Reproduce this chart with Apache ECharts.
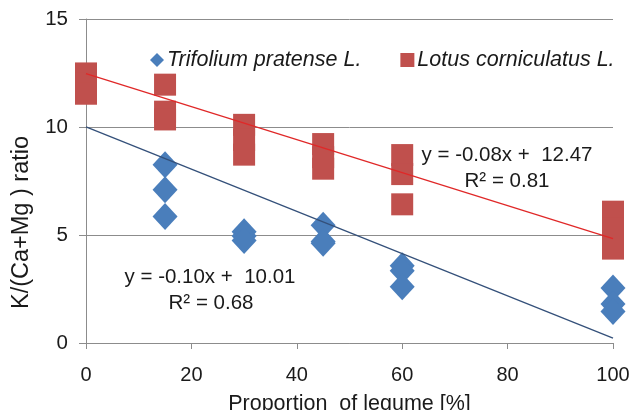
<!DOCTYPE html>
<html>
<head>
<meta charset="utf-8">
<script src="https://cdn.jsdelivr.net/npm/echarts@6/dist/echarts.min.js"></script>
<style>
html,body{margin:0;padding:0;background:#fff;}
#chart{width:630px;height:410px;}
</style>
</head>
<body>
<div id="chart"></div>
<script>
// ---- data ----
var legumeProportion = [0, 15, 30, 45, 60, 100];
var trifoliumX = [15, 15, 15, 30, 30, 30, 45, 45, 45, 60, 60, 60, 100, 100, 100];
var trifoliumY = [8.25, 7.1, 5.86, 5.15, 4.95, 4.75, 5.45, 4.7, 4.62, 3.58, 3.35, 2.6, 2.55, 1.8, 1.46];
var lotusX = [0, 0, 0, 15, 15, 15, 30, 30, 30, 45, 45, 45, 60, 60, 60, 100, 100, 100];
var lotusY = [12.48, 12.0, 11.54, 11.96, 10.71, 10.35, 10.1, 9.4, 8.72, 9.21, 8.6, 8.07, 8.7, 7.82, 6.42, 6.08, 5.3, 4.37];
var trifoliumSlope = -0.0978, trifoliumIntercept = 10.01;
var lotusSlope = -0.0764, lotusIntercept = 12.47;
var trifoliumEq = ['y = -0.10x +  10.01', 'R² = 0.68'];
var lotusEq = ['y = -0.08x +  12.47', 'R² = 0.81'];
var xTicks = [0, 20, 40, 60, 80, 100];
var yTicks = [0, 5, 10, 15];
var seriesNames = ['Trifolium pratense L.', 'Lotus corniculatus L.'];

function pairs(xs, ys){ return xs.map(function(x,i){ return [x, ys[i]]; }); }
function trend(m, b){
  var x0 = legumeProportion[0], x1 = legumeProportion[legumeProportion.length-1];
  return [[x0, b + m*x0], [x1, b + m*x1]];
}

var FONT = 'Liberation Sans, Arial, sans-serif';
var chart = echarts.init(document.getElementById('chart'), null, {renderer:'canvas'});
chart.setOption({
  animation:false,
  backgroundColor:'#ffffff',
  textStyle:{fontFamily:FONT},
  grid:{left:86, right:17, top:19, bottom:67, containLabel:false, outerBoundsMode:'none'},
  legend:{
    left:145, top:44, itemGap:39, itemWidth:14, itemHeight:14,
    data:[{name:seriesNames[0], icon:'diamond'},{name:seriesNames[1], icon:'rect'}],
    textStyle:{fontFamily:FONT, fontSize:21.5, fontStyle:'italic', color:'#1a1a1a', padding:[0,0,0,-2]}
  },
  xAxis:{
    type:'value', min:xTicks[0], max:xTicks[xTicks.length-1], interval:20,
    name:'Proportion  of legume [%]', nameLocation:'middle', nameGap:50,
    nameTextStyle:{fontFamily:FONT, fontSize:21.5, color:'#1a1a1a'},
    axisLine:{show:true, lineStyle:{color:'#8c8c8c', width:1}},
    axisTick:{show:true, inside:false, length:6, lineStyle:{color:'#8c8c8c'}},
    axisLabel:{fontFamily:FONT, fontSize:20, color:'#1a1a1a', margin:22},
    splitLine:{show:false}
  },
  yAxis:{
    type:'value', min:yTicks[0], max:yTicks[yTicks.length-1], interval:5,
    name:'K/(Ca+Mg ) ratio', nameLocation:'middle', nameGap:52, nameRotate:90,
    nameTextStyle:{fontFamily:FONT, fontSize:23.5, color:'#1a1a1a', padding:[0,83,0,0]},
    axisLine:{show:true, lineStyle:{color:'#8c8c8c', width:1}},
    axisTick:{show:true, inside:false, length:7, lineStyle:{color:'#8c8c8c'}},
    axisLabel:{fontFamily:FONT, fontSize:20.5, color:'#1a1a1a', margin:18},
    splitLine:{show:true, lineStyle:{color:'#8c8c8c', width:1}}
  },
  series:[
    {
      name:seriesNames[0], type:'scatter', symbol:'diamond', symbolSize:[25,27],
      data:pairs(trifoliumX, trifoliumY), z:2,
      itemStyle:{color:'#4a7ebb', opacity:1}
    },
    {
      name:seriesNames[1], type:'scatter', symbol:'rect', symbolSize:[22,22],
      data:pairs(lotusX, lotusY), z:3,
      itemStyle:{color:'#c0504d', opacity:1}
    },
    {
      name:'trendTrifolium', type:'line', data:trend(trifoliumSlope, trifoliumIntercept),
      symbol:'none', z:4, lineStyle:{color:'#34507a', width:1.3}, silent:true
    },
    {
      name:'trendLotus', type:'line', data:trend(lotusSlope, lotusIntercept),
      symbol:'none', z:4, lineStyle:{color:'#e02828', width:1.3}, silent:true
    }
  ],
  graphic:[
    {type:'text', x:507, y:155, z:10, style:{text:lotusEq[0], font:'20.5px '+FONT, fill:'#1a1a1a', align:'center', verticalAlign:'middle'}},
    {type:'text', x:507, y:181, z:10, style:{text:lotusEq[1], font:'20.5px '+FONT, fill:'#1a1a1a', align:'center', verticalAlign:'middle'}},
    {type:'text', x:210, y:277, z:10, style:{text:trifoliumEq[0], font:'20.5px '+FONT, fill:'#1a1a1a', align:'center', verticalAlign:'middle'}},
    {type:'text', x:211, y:303, z:10, style:{text:trifoliumEq[1], font:'20.5px '+FONT, fill:'#1a1a1a', align:'center', verticalAlign:'middle'}}
  ]
});
</script>
</body>
</html>
